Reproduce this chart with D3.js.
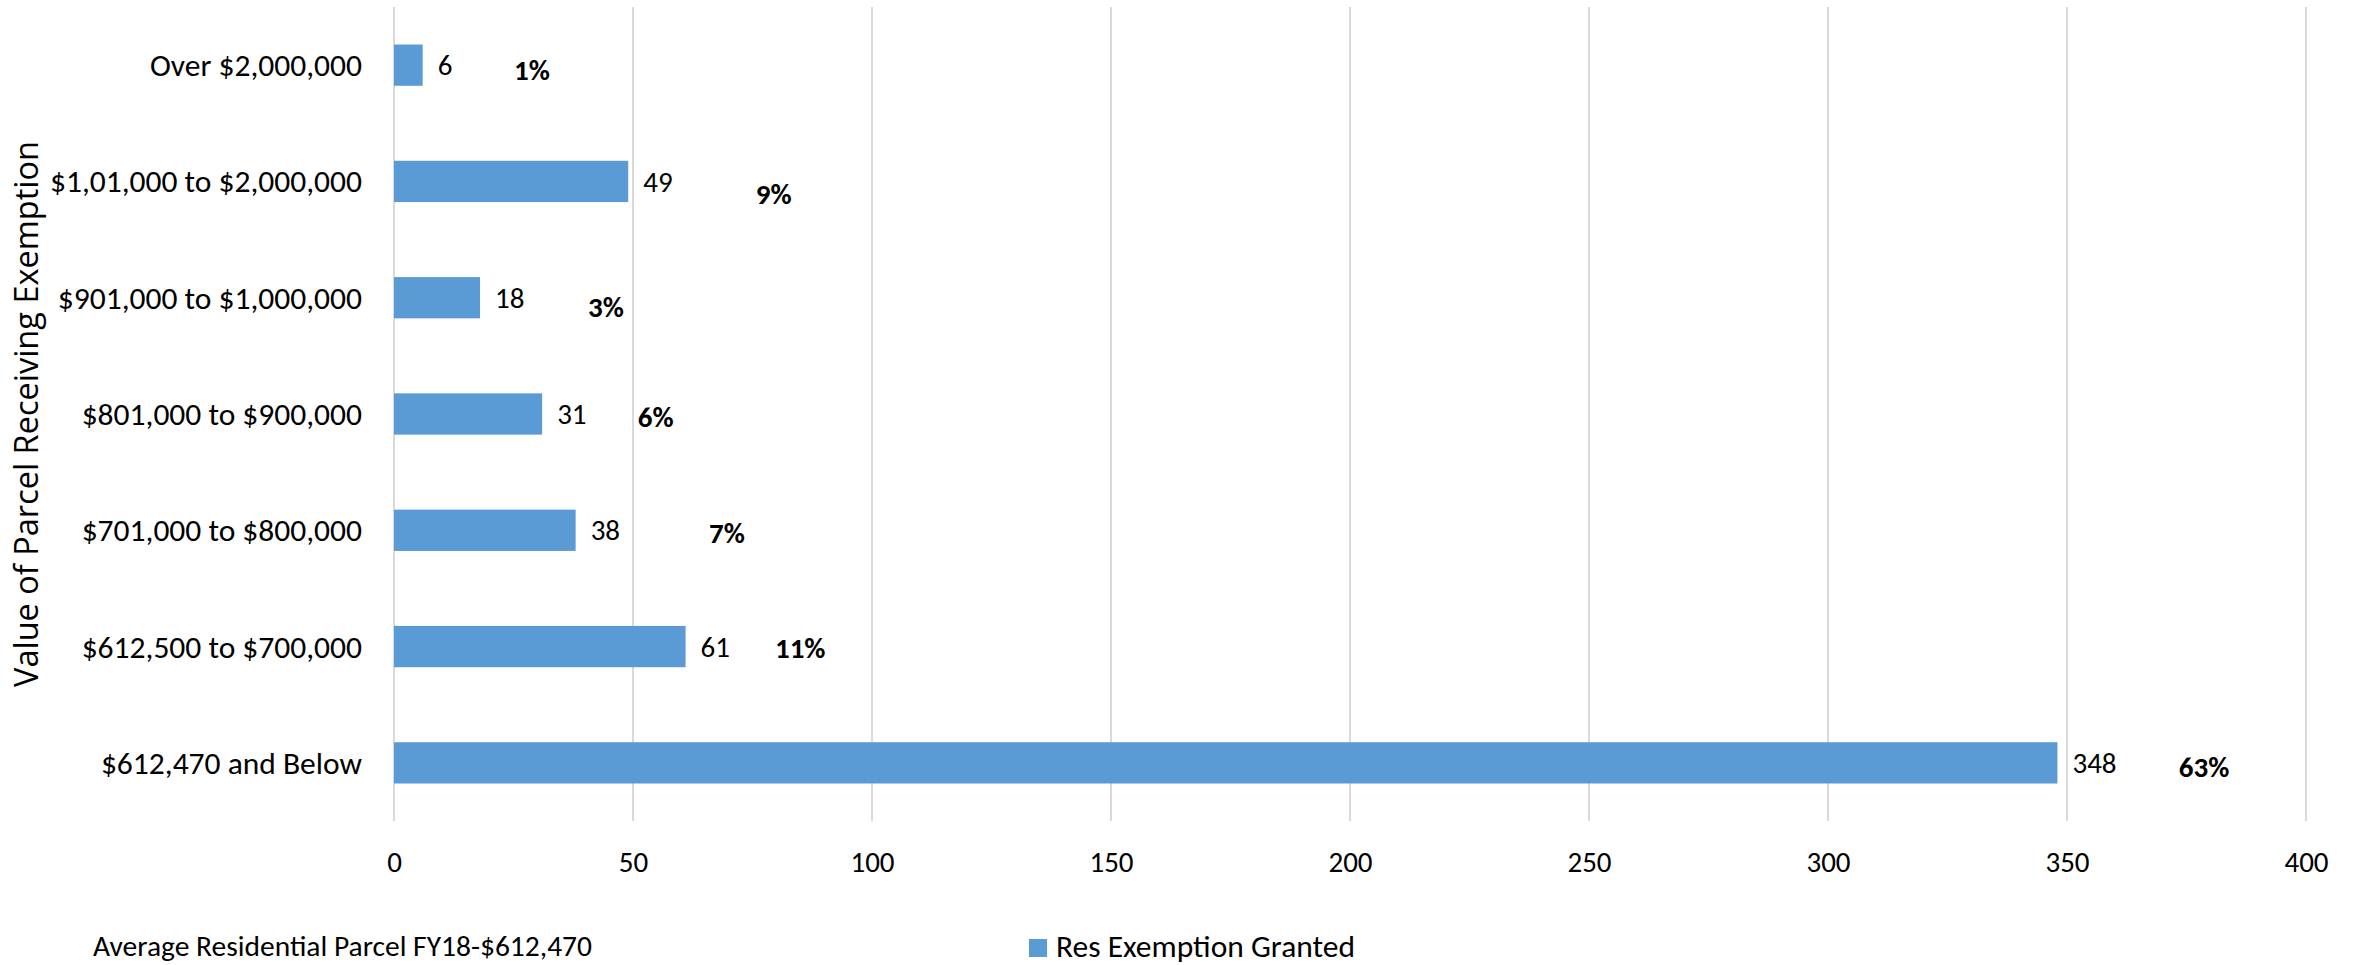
<!DOCTYPE html>
<html>
<head>
<meta charset="utf-8">
<script src="https://cdn.jsdelivr.net/npm/d3@7"></script>
<style>
  body { margin: 0; background: #fff; }
  text { font-family: Carlito, Calibri, Lato, sans-serif; fill: #000; }
</style>
</head>
<body>
<div class="bar-chart"></div>
<script>
  // categories, top to bottom as drawn
  const categories = [
    "Over $2,000,000",
    "$1,01,000 to $2,000,000",
    "$901,000 to $1,000,000",
    "$801,000 to $900,000",
    "$701,000 to $800,000",
    "$612,500 to $700,000",
    "$612,470 and Below",
  ];
  const granted = [6, 49, 18, 31, 38, 61, 348];
  const xTicks = [0, 50, 100, 150, 200, 250, 300, 350, 400];
  // where the hand placed % boxes sit, in axis units
  const pctLabelAt = [25.1, 75.7, 40.6, 51.0, 65.9, 79.7, 373.4];

  const seriesName = "Res Exemption Granted";
  const yTitle = "Value of Parcel Receiving Exemption";
  const footNote = "Average Residential Parcel FY18-$612,470";

  drawBars();

  function drawBars() {
    const width = 2362,
      height = 965,
      left = 394,
      right = 2306,
      top = 7,
      bottom = 821,
      barColor = "#5b9bd5",
      labelSize = "31.5px",
      numSize = "29px";

    const total = d3.sum(granted);
    const rows = categories.map((c, i) => ({
      name: c,
      value: granted[i],
      pct: Math.round((granted[i] / total) * 100),
      at: pctLabelAt[i],
    }));

    const svg = d3
      .select(".bar-chart")
      .append("svg")
      .attr("width", width)
      .attr("height", height);

    const x = d3.scaleLinear().domain([0, 400]).range([left, right]);
    const y = d3
      .scaleBand()
      .domain(categories)
      .range([top, bottom])
      .paddingInner(0.645)
      .paddingOuter(0.3225);

    // vertical gridlines
    svg
      .append("g")
      .selectAll("line")
      .data(xTicks)
      .enter()
      .append("line")
      .attr("x1", d => x(d))
      .attr("x2", d => x(d))
      .attr("y1", top)
      .attr("y2", bottom)
      .attr("stroke", "#d9d9d9")
      .attr("stroke-width", 2);

    // x axis labels
    const xAxis = svg
      .append("g")
      .attr("transform", `translate(0, ${bottom})`)
      .call(d3.axisBottom(x).tickValues(xTicks).tickSize(0));
    xAxis.select(".domain").remove();
    xAxis
      .selectAll("text")
      .attr("y", 41)
      .attr("dy", "0.35em")
      .style("font-size", numSize)
      .style("font-family", null);

    // category labels
    const yAxis = svg
      .append("g")
      .attr("transform", `translate(${left}, 0)`)
      .call(d3.axisLeft(y).tickSize(0).tickPadding(32));
    yAxis.select(".domain").remove();
    yAxis
      .selectAll("text")
      .attr("dy", "0.35em")
      .style("font-size", labelSize)
      .style("font-family", null);

    // bars
    const bar = svg
      .selectAll(".bar")
      .data(rows)
      .enter()
      .append("g")
      .attr("class", "bar");

    bar
      .append("rect")
      .attr("x", x(0))
      .attr("y", d => y(d.name))
      .attr("width", d => x(d.value) - x(0))
      .attr("height", y.bandwidth())
      .attr("fill", barColor);

    bar
      .append("text")
      .attr("x", d => x(d.value) + 15)
      .attr("y", d => y(d.name) + y.bandwidth() / 2)
      .attr("dy", "0.35em")
      .style("font-size", numSize)
      .text(d => d.value);

    // the bold % boxes sit a touch below the bar middle
    const nudge = [5, 12, 9, 3, 3, 1, 4];
    bar
      .append("text")
      .attr("x", d => x(d.at))
      .attr("y", (d, i) => y(d.name) + y.bandwidth() / 2 + nudge[i])
      .attr("dy", "0.35em")
      .style("font-size", numSize)
      .style("font-weight", "bold")
      .text(d => `${d.pct}%`);

    // axis title
    svg
      .append("text")
      .attr("transform", "translate(27, 414) rotate(-90)")
      .attr("text-anchor", "middle")
      .attr("dy", "0.35em")
      .style("font-family", "'Open Sans', sans-serif")
      .style("font-size", "32.5px")
      .text(yTitle);

    // foot note + legend
    svg
      .append("text")
      .attr("x", 93)
      .attr("y", 946)
      .attr("dy", "0.35em")
      .style("font-size", "29.5px")
      .text(footNote);

    const legend = svg.append("g").attr("transform", "translate(1029, 939)");
    legend
      .append("rect")
      .attr("width", 18)
      .attr("height", 18)
      .attr("fill", barColor);
    legend
      .append("text")
      .attr("x", 27)
      .attr("y", 7)
      .attr("dy", "0.35em")
      .style("font-size", labelSize)
      .text(seriesName);
  }
</script>
</body>
</html>
